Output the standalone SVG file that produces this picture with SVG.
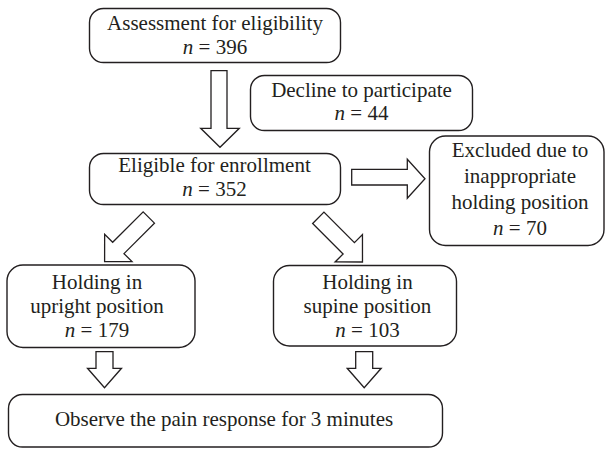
<svg xmlns="http://www.w3.org/2000/svg" width="605" height="449" viewBox="0 0 605 449">
<style>
.box{fill:#fff;stroke:#231f20;stroke-width:1.4}
.arr{fill:#fff;stroke:#231f20;stroke-width:1.3;stroke-linejoin:miter}
text{font-family:"Liberation Serif","Times New Roman",serif;font-size:21px;fill:#231f20;text-anchor:middle}
.i{font-style:italic}
</style>
<rect width="605" height="449" fill="#fff"/>
<g id="connectors">
<path class="arr" d="M211,70.7 H227 V128.3 H239.3 L220,147.3 L200.7,128.3 H211 Z"/>
<path class="arr" d="M351.7,169.3 H407.3 V159.3 L425,178.8 L407.3,198.3 V185 H351.7 Z"/>
<path class="arr" transform="translate(148.8,217.5) rotate(45)" d="M-8,0 H8 V43.1 H19.35 L0,62.5 L-19.35,43.1 H-8 Z"/>
<path class="arr" transform="translate(318.3,217.8) rotate(-45)" d="M-8,0 H8 V43.1 H19.35 L0,62.5 L-19.35,43.1 H-8 Z"/>
<path class="arr" d="M96,351.7 H113 V368.3 H121.5 L104.5,387.7 L87.5,368.3 H96 Z"/>
<path class="arr" d="M355.7,351.7 H372.7 V368.3 H381.2 L364.2,387.7 L347.2,368.3 H355.7 Z"/>
</g>
<g id="assessment">
<rect class="box" x="89.5" y="8.5" width="251" height="54" rx="14"/>
<text x="215" y="29.5">Assessment for eligibility</text>
<text x="215" y="53.5"><tspan class="i">n</tspan> = 396</text>
</g>
<g id="decline">
<rect class="box" x="250.5" y="75.5" width="222" height="55" rx="14"/>
<text x="361.5" y="96.5">Decline to participate</text>
<text x="361.5" y="120"><tspan class="i">n</tspan> = 44</text>
</g>
<g id="eligible">
<rect class="box" x="89.5" y="153.5" width="251" height="51" rx="14"/>
<text x="214.5" y="172">Eligible for enrollment</text>
<text x="214.5" y="196"><tspan class="i">n</tspan> = 352</text>
</g>
<g id="excluded">
<rect class="box" x="429.5" y="136" width="174.5" height="109.5" rx="16"/>
<text x="520" y="157">Excluded due to</text>
<text x="520" y="183">inappropriate</text>
<text x="520" y="209">holding position</text>
<text x="520" y="235"><tspan class="i">n</tspan> = 70</text>
</g>
<g id="upright">
<rect class="box" x="7" y="265" width="188" height="82.5" rx="16"/>
<text x="97" y="289">Holding in</text>
<text x="97" y="313">upright position</text>
<text x="97" y="337"><tspan class="i">n</tspan> = 179</text>
</g>
<g id="supine">
<rect class="box" x="273.5" y="265.5" width="183" height="80.5" rx="16"/>
<text x="367.5" y="289">Holding in</text>
<text x="367.5" y="313">supine position</text>
<text x="367.5" y="337"><tspan class="i">n</tspan> = 103</text>
</g>
<g id="observe">
<rect class="box" x="8.5" y="394.5" width="434" height="52.5" rx="14"/>
<text x="224" y="425.5">Observe the pain response for 3 minutes</text>
</g>
</svg>
